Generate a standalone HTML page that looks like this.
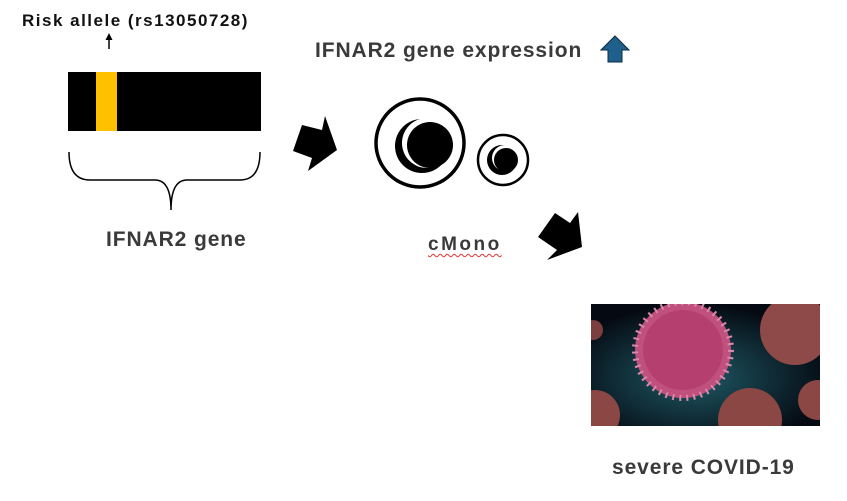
<!DOCTYPE html>
<html><head><style>
body{margin:0;width:847px;height:501px;background:#fff;position:relative;overflow:hidden;font-family:"Liberation Sans","Noto Sans CJK KR",sans-serif;font-weight:bold;color:#3a3a3a}
.t{position:absolute;white-space:nowrap}
</style></head><body>
<div class="t" style="left:22px;top:11px;font-size:17px;letter-spacing:1.5px;color:#111">Risk allele (rs13050728)</div>
<div class="t" style="left:315px;top:39px;font-size:21px;letter-spacing:0.9px">IFNAR2 gene expression</div>
<div class="t" style="left:106px;top:228px;font-size:21px;letter-spacing:0.9px">IFNAR2 gene</div>
<div class="t" style="left:428px;top:234px;font-size:19px;letter-spacing:2.5px;text-decoration:underline wavy #d33;text-decoration-thickness:1px;text-underline-offset:3px">cMono</div>
<div class="t" style="left:612px;top:456px;font-size:21px;letter-spacing:0.9px">severe COVID-19</div>
<svg width="847" height="501" style="position:absolute;left:0;top:0">
<line x1="109" y1="49" x2="109" y2="38" stroke="#000" stroke-width="1.5"/>
<polygon points="105.5,40 109,33 112.5,40" fill="#000"/>
<rect x="68" y="72" width="193" height="59" fill="#000"/>
<rect x="96" y="72" width="21" height="59" fill="#ffc000"/>
<path d="M69,152 Q69,180 90,180 L155,180 Q171,180 171,210 Q171,180 187,180 L240,180 Q260,180 260,152" fill="none" stroke="#000" stroke-width="1.5"/>
<polygon points="302,125 322,130 325,116 337,150 308,171 312,158 293,151" fill="#000"/>
<polygon points="555,213 570,223 578,212 582,247 547,260 557,250 538,237" fill="#000"/>
<polygon points="601,50 615,36 629,50 622,50 622,62 608,62 608,50" fill="#1f5f8b" stroke="#0a2a40" stroke-width="1"/>
<circle cx="420" cy="143" r="44" fill="none" stroke="#000" stroke-width="3.5"/>
<circle cx="422" cy="146" r="27" fill="#000"/>
<circle cx="427" cy="143" r="25" fill="#fff"/>
<circle cx="430" cy="145" r="23" fill="#000"/>
<circle cx="503" cy="160" r="25" fill="none" stroke="#000" stroke-width="2.5"/>
<circle cx="502" cy="160" r="15" fill="#000"/>
<circle cx="505" cy="158" r="13" fill="#fff"/>
<circle cx="506" cy="160" r="12" fill="#000"/>
<defs><radialGradient id="g" cx="0.45" cy="0.6" r="0.6"><stop offset="0" stop-color="#1e5a66"/><stop offset="1" stop-color="#050a12"/></radialGradient>
<clipPath id="c"><rect x="591" y="304" width="229" height="122"/></clipPath></defs>
<g clip-path="url(#c)">
<rect x="591" y="304" width="229" height="122" fill="url(#g)"/>
<circle cx="795" cy="330" r="35" fill="#8e4a48"/>
<circle cx="750" cy="420" r="32" fill="#8a4744"/>
<circle cx="595" cy="415" r="25" fill="#8a4744"/>
<circle cx="818" cy="400" r="20" fill="#8a4744"/>
<circle cx="593" cy="330" r="10" fill="#7a3f3e"/>
<circle cx="683" cy="350" r="48" fill="#c0507e" stroke="#d98aa8" stroke-width="6" stroke-dasharray="2 5"/>
<circle cx="683" cy="350" r="40" fill="#b5406f"/>
</g>
</svg>
</body></html>
